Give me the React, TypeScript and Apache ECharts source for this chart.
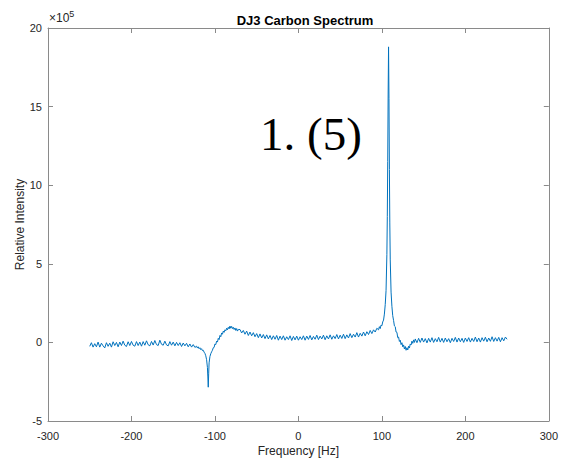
import React, { useEffect, useRef } from "react";
import * as echarts from "echarts";

// Relative intensity in units of 1e5, frequency in Hz
const leftBaseline: [number, number][] = [
  [-250, -0.25], [-248, -0.02], [-246, -0.3], [-244, -0.08], [-242, -0.28], [-240, 0.02], [-238, -0.3], [-236, -0.05],
  [-234, -0.22], [-232, -0.35], [-230, -0.02], [-228, -0.25], [-226, -0.05], [-224, -0.3], [-222, 0.04], [-220, -0.2],
  [-218, 0.0], [-216, -0.28], [-214, 0.02], [-212, -0.2], [-210, 0.08], [-208, -0.18], [-206, -0.26], [-204, 0.04],
  [-202, -0.2], [-200, 0.06], [-198, -0.18], [-196, -0.24], [-194, 0.05], [-192, -0.2], [-190, 0.02], [-188, -0.24],
  [-186, 0.05], [-184, -0.18], [-182, 0.1], [-180, -0.15], [-178, -0.22], [-176, 0.06], [-174, -0.17], [-172, 0.12],
  [-170, -0.14], [-168, -0.2], [-166, 0.14], [-164, -0.12], [-162, -0.18], [-160, 0.08], [-158, -0.16], [-156, -0.22],
  [-154, 0.05], [-152, -0.18], [-150, 0.02], [-148, -0.22], [-146, 0.0], [-144, -0.2], [-142, -0.02], [-140, -0.26],
  [-138, -0.04], [-136, -0.22], [-134, -0.06], [-132, -0.28], [-130, -0.1], [-128, -0.3], [-126, -0.14], [-124, -0.32],
  [-122, -0.24],
];

const negativeDip: [number, number][] = [
  [-121, -0.36], [-120, -0.28], [-119, -0.4], [-118, -0.34], [-117, -0.46], [-116, -0.4], [-115, -0.52], [-114, -0.5],
  [-113, -0.62], [-112, -0.7], [-111, -0.85], [-110, -1.1], [-109, -1.6], [-108.5, -2.2], [-108, -2.85], [-107.5, -2.0],
  [-107, -1.3], [-106, -0.9], [-105, -0.72], [-104, -0.6],
];

const hump: [number, number][] = [
  [-103, -0.5], [-102, -0.34], [-101, -0.32], [-100, -0.1], [-99, -0.14], [-98, 0.08], [-97, 0.02], [-96, 0.26],
  [-95, 0.18], [-94, 0.44], [-93, 0.36], [-92, 0.6], [-91, 0.52], [-90, 0.72], [-89, 0.64], [-88, 0.8],
  [-87, 0.74], [-86, 0.9], [-85, 0.8], [-84, 0.96], [-83, 0.86], [-82, 1.04], [-81, 0.9], [-80, 1.02],
  [-79, 0.88], [-78, 0.96], [-77, 0.82], [-76, 0.92], [-75, 0.76], [-74, 0.88], [-73, 0.72], [-72, 0.82],
];

const midBaseline: [number, number][] = [
  [-70, 0.82], [-68, 0.6], [-66, 0.76], [-64, 0.52], [-62, 0.72], [-60, 0.44], [-58, 0.66], [-56, 0.42],
  [-54, 0.62], [-52, 0.36], [-50, 0.56], [-48, 0.3], [-46, 0.54], [-44, 0.28], [-42, 0.5], [-40, 0.24],
  [-38, 0.48], [-36, 0.22], [-34, 0.44], [-32, 0.18], [-30, 0.42], [-28, 0.2], [-26, 0.44], [-24, 0.14],
  [-22, 0.4], [-20, 0.18], [-18, 0.42], [-16, 0.14], [-14, 0.36], [-12, 0.18], [-10, 0.42], [-8, 0.12],
  [-6, 0.38], [-4, 0.16], [-2, 0.4], [0, 0.14], [2, 0.36], [4, 0.18], [6, 0.42], [8, 0.14],
  [10, 0.4], [12, 0.19], [14, 0.44], [16, 0.16], [18, 0.38], [20, 0.2], [22, 0.46], [24, 0.18],
  [26, 0.4], [28, 0.22], [30, 0.46], [32, 0.17], [34, 0.42], [36, 0.22], [38, 0.48], [40, 0.2],
  [42, 0.42], [44, 0.24], [46, 0.5], [48, 0.22], [50, 0.46], [52, 0.25], [54, 0.52], [56, 0.24],
  [58, 0.48], [60, 0.28], [62, 0.56], [64, 0.3], [66, 0.52], [68, 0.34], [70, 0.62], [72, 0.34],
  [74, 0.58], [76, 0.4], [78, 0.66], [80, 0.42], [82, 0.68], [84, 0.5], [86, 0.76], [88, 0.56],
  [90, 0.8], [92, 0.66], [94, 0.9],
];

const mainPeak: [number, number][] = [
  [96, 0.8], [97, 1.0], [98, 0.88], [99, 1.1], [100, 1.06], [101, 1.3], [102, 1.42], [103, 1.8],
  [104, 2.4], [105, 3.3], [106, 5.6], [106.5, 8.0], [107, 11.5], [107.5, 15.8], [108, 18.8], [108.5, 15.5],
  [109, 11.0], [109.5, 7.6], [110, 5.3], [111, 3.2], [112, 2.3], [113, 1.7], [114, 1.4], [115, 1.05],
  [116, 1.0], [117, 0.66], [118, 0.64], [119, 0.3], [120, 0.34], [121, 0.06], [122, 0.14], [123, -0.14],
  [124, -0.02], [125, -0.28], [126, -0.16], [127, -0.42], [128, -0.26], [129, -0.5], [130, -0.34], [131, -0.48],
  [132, -0.24], [133, -0.36], [134, -0.1], [135, -0.16], [136, 0.08], [137, -0.06], [138, 0.16], [139, 0.0],
];

const rightBaseline: [number, number][] = [
  [140, 0.22], [142, -0.02], [144, 0.26], [146, 0.0], [148, 0.28], [150, 0.02], [152, 0.24], [154, -0.03],
  [156, 0.26], [158, 0.02], [160, 0.3], [162, 0.0], [164, 0.24], [166, 0.04], [168, 0.32], [170, 0.02],
  [172, 0.26], [174, 0.0], [176, 0.28], [178, 0.04], [180, 0.24], [182, -0.02], [184, 0.26], [186, 0.06],
  [188, 0.32], [190, 0.02], [192, 0.28], [194, 0.04], [196, 0.26], [198, 0.0], [200, 0.28], [202, 0.06],
  [204, 0.3], [206, 0.02], [208, 0.26], [210, 0.06], [212, 0.34], [214, 0.04], [216, 0.28], [218, 0.02],
  [220, 0.3], [222, 0.08], [224, 0.33], [226, 0.04], [228, 0.28], [230, 0.07], [232, 0.36], [234, 0.06],
  [236, 0.3], [238, 0.08], [240, 0.32], [242, 0.04], [244, 0.3], [246, 0.1], [248, 0.34], [250, 0.2],
];

const titleText = "DJ3 Carbon Spectrum";
const xAxisName = "Frequency [Hz]";
const yAxisName = "Relative Intensity";
const annotationText = "1. (5)";

export default function App() {
  const ref = useRef<HTMLDivElement>(null);

  useEffect(() => {
    if (!ref.current) return;
    const chart = echarts.init(ref.current, undefined, { renderer: "svg" });
    const data = [...leftBaseline, ...negativeDip, ...hump, ...midBaseline, ...mainPeak, ...rightBaseline];
    const font = "'Liberation Sans', Arial, Helvetica, sans-serif";
    const axisLineColor = "#8a8a8a";
    const labelColor = "#262626";

    const commonAxis = {
      type: "value" as const,
      axisLine: { show: true, onZero: false, lineStyle: { color: axisLineColor, width: 1 } },
      axisTick: { show: true, inside: true, length: 5, lineStyle: { color: axisLineColor } },
      splitLine: { show: false },
    };

    chart.setOption({
      animation: false,
      backgroundColor: "#ffffff",
      title: {
        text: titleText,
        left: 300,
        top: 9,
        textAlign: "center",
        textStyle: { fontFamily: font, fontSize: 13, fontWeight: "bold", color: "#000000" },
      },
      grid: { left: 48, right: 10, top: 28, bottom: 38, containLabel: false },
      xAxis: [
        {
          ...commonAxis,
          min: -300,
          max: 300,
          interval: 100,
          position: "bottom",
          name: xAxisName,
          nameLocation: "middle",
          nameGap: 24,
          nameMoveOverlap: false,
          nameTextStyle: { fontFamily: font, fontSize: 12, color: labelColor },
          axisLabel: { fontFamily: font, fontSize: 11, color: labelColor, margin: 9 },
        },
        {
          ...commonAxis,
          min: -300,
          max: 300,
          interval: 100,
          position: "top",
          axisLabel: { show: false },
        },
      ],
      yAxis: [
        {
          ...commonAxis,
          min: -5,
          max: 20,
          interval: 5,
          position: "left",
          name: yAxisName,
          nameLocation: "middle",
          nameGap: 22,
          nameMoveOverlap: false,
          nameTextStyle: { fontFamily: font, fontSize: 12, color: labelColor },
          axisLabel: { fontFamily: font, fontSize: 11, color: labelColor, margin: 6 },
        },
        {
          ...commonAxis,
          min: -5,
          max: 20,
          interval: 5,
          position: "right",
          axisLabel: { show: false },
        },
      ],
      series: [
        {
          type: "line",
          xAxisIndex: 0,
          yAxisIndex: 0,
          data,
          showSymbol: false,
          symbol: "none",
          lineStyle: { color: "#0072BD", width: 1 },
          silent: true,
        },
      ],
      graphic: [
        {
          type: "text",
          x: 49,
          y: 26,
          style: {
            text: "×10{sup|5}",
            fontFamily: font,
            fontSize: 12,
            fill: labelColor,
            textVerticalAlign: "bottom",
            rich: { sup: { fontSize: 9, fill: labelColor, padding: [0, 0, 8, 0] } },
          },
        },
        {
          type: "text",
          x: 260,
          y: 134,
          style: {
            text: annotationText,
            fontFamily: "'Liberation Serif', 'DejaVu Serif', serif",
            fontSize: 47,
            fill: "#000000",
            textAlign: "left",
            textVerticalAlign: "middle",
          },
        },
      ],
    });

    return () => chart.dispose();
  }, []);

  return (
    <div
      ref={ref}
      style={{ position: "fixed", left: 0, top: 0, width: 561, height: 462 }}
    />
  );
}
